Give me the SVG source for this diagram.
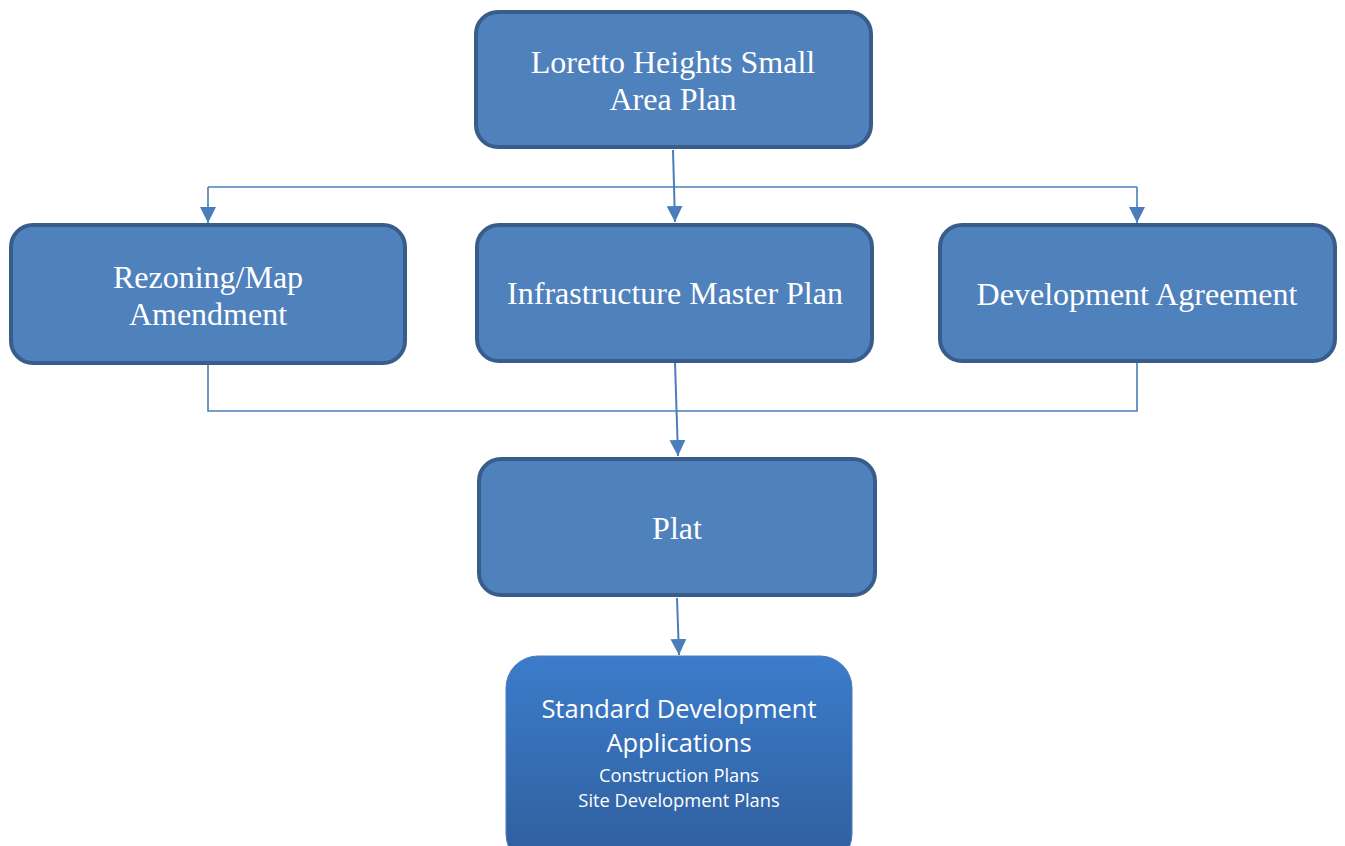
<svg xmlns="http://www.w3.org/2000/svg" width="1345" height="846" viewBox="0 0 1345 846">
<style>
.box{fill:#4F81BD;stroke:#385D8A;stroke-width:4}
.t{font-family:"Liberation Serif","Times New Roman",serif;font-size:32px;fill:#fff;text-anchor:middle}
.s{font-family:"Open Sans","Liberation Sans",sans-serif;fill:#fff;text-anchor:middle}
.c{fill:none;stroke:#4A7EBB;stroke-width:1.6}
.a{fill:none;stroke:#4A7EBB;stroke-width:2;marker-end:url(#ah)}
</style>
<defs>
<marker id="ah" viewBox="0 0 10 10" refX="10" refY="5" markerWidth="16" markerHeight="16" markerUnits="userSpaceOnUse" orient="auto">
<path d="M0,0 L10,5 L0,10 z" fill="#4A7EBB"/>
</marker>
<linearGradient id="g" x1="0" y1="0" x2="0" y2="1">
<stop offset="0" stop-color="#3C7CCB"/>
<stop offset="1" stop-color="#2F5E9C"/>
</linearGradient>
</defs>
<g id="connectors">
<path class="c" d="M208,187 H1137"/>
<path class="c" d="M208,187 V223" style="marker-end:url(#ah)"/>
<path class="c" d="M1137,187 V223" style="marker-end:url(#ah)"/>
<path class="a" d="M673,150 L675,222"/>
<path class="c" d="M208,365 V411 H1137 V363"/>
<path class="a" d="M675,362 L678,456"/>
<path class="a" d="M677,598 L679,655"/>
</g>
<g id="loretto">
<rect class="box" x="476" y="12" width="395" height="135" rx="22"/>
<text class="t" x="673" y="73">Loretto Heights Small</text>
<text class="t" x="673" y="110">Area Plan</text>
</g>
<g id="rezoning">
<rect class="box" x="11" y="225" width="394" height="138" rx="22"/>
<text class="t" x="208" y="288">Rezoning/Map</text>
<text class="t" x="208" y="325">Amendment</text>
</g>
<g id="infrastructure">
<rect class="box" x="477" y="225" width="395" height="136" rx="22"/>
<text class="t" x="675" y="304">Infrastructure Master Plan</text>
</g>
<g id="development">
<rect class="box" x="940" y="225" width="395" height="136" rx="22"/>
<text class="t" x="1137" y="305">Development Agreement</text>
</g>
<g id="plat">
<rect class="box" x="479" y="459" width="396" height="136" rx="22"/>
<text class="t" x="677" y="539">Plat</text>
</g>
<g id="standard">
<rect x="506" y="656" width="346" height="210" rx="32" fill="url(#g)" stroke="#4A7EBB" stroke-width="1"/>
<text class="s" x="679" y="718" font-size="25.5">Standard Development</text>
<text class="s" x="679" y="752" font-size="25.5">Applications</text>
<text class="s" x="679" y="782" font-size="18.3">Construction Plans</text>
<text class="s" x="679" y="807" font-size="18.3">Site Development Plans</text>
</g>
</svg>
